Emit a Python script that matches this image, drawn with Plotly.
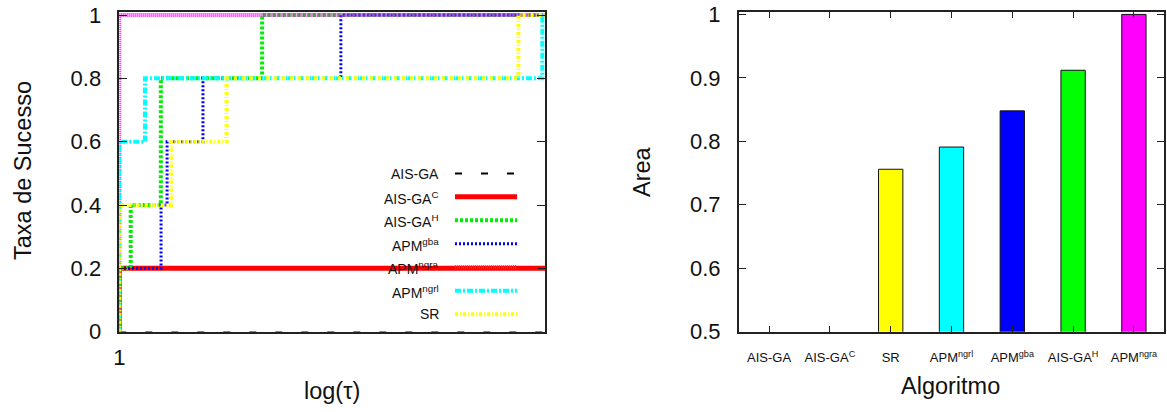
import plotly.graph_objects as go

W, H = 1167, 412

# ---------------- data: performance profile (left) ----------------
series_names = ["AIS-GA", "AIS-GA<sup>C</sup>", "AIS-GA<sup>H</sup>", "APM<sup>gba</sup>",
                "APM<sup>ngra</sup>", "APM<sup>ngrl</sup>", "SR"]
tau_aisga = [1, 5]
rho_aisga = [0, 0]
tau_aisgac = [1, 1, 5]
rho_aisgac = [0, 0.2, 0.2]
tau_aisgah = [1, 1, 1.044, 1.170, 1.716, 5]
rho_aisgah = [0, 0.2, 0.4, 0.8, 1.0, 1.0]
tau_gba = [1, 1, 1.171, 1.198, 1.372, 2.311, 5]
rho_gba = [0, 0.2, 0.4, 0.6, 0.8, 1.0, 1.0]
tau_ngra = [1, 1, 5]
rho_ngra = [0, 1.0, 1.0]
tau_ngrl = [1, 1, 1.102, 4.95, 5]
rho_ngrl = [0, 0.6, 0.8, 1.0, 1.0]
tau_sr = [1, 1, 1.216, 1.500, 4.522, 5]
rho_sr = [0, 0.4, 0.6, 0.8, 1.0, 1.0]

# ---------------- data: area (right) ----------------
bar_labels = ["AIS-GA", "AIS-GA<sup>C</sup>", "SR", "APM<sup>ngrl</sup>", "APM<sup>gba</sup>",
              "AIS-GA<sup>H</sup>", "APM<sup>ngra</sup>"]
bar_values = [0.0, 0.2, 0.756, 0.791, 0.848, 0.912, 1.0]
bar_colors = ["#000000", "#ff0000", "#ffff00", "#00ffff", "#0000ff", "#00ff00", "#ff00ff"]

y_ticks_left = [0, 0.2, 0.4, 0.6, 0.8, 1]
y_ticks_right = [0.5, 0.6, 0.7, 0.8, 0.9, 1]

styles = [
    dict(color="#000000", width=2, dash="7px,19px"),
    dict(color="#ff0000", width=5, dash="solid"),
    dict(color="#00ee00", width=4, dash="3px,2px"),
    dict(color="#0000ff", width=3, dash="2px,2px"),
    dict(color="#ff00ff", width=4, dash="1px,1px"),
    dict(color="#00ffff", width=4, dash="6px,2px,2px,2px"),
    dict(color="#ffff00", width=4, dash="3px,2px,1px,2px"),
]
taus = [tau_aisga, tau_aisgac, tau_aisgah, tau_gba, tau_ngra, tau_ngrl, tau_sr]
rhos = [rho_aisga, rho_aisgac, rho_aisgah, rho_gba, rho_ngra, rho_ngrl, rho_sr]

fig = go.Figure()
for i, (name, t, r, st) in enumerate(zip(series_names, taus, rhos, styles)):
    st_tr = dict(st)
    if i == 0:
        st_tr["width"] = 0.8  # lies on the x axis, hidden under the border as in the reference
    fig.add_trace(go.Scatter(x=t, y=r, mode="lines", name=name, line=dict(shape="hv", **st_tr),
                             xaxis="x", yaxis="y", showlegend=False))

fig.add_trace(go.Bar(x=bar_labels, y=bar_values, marker=dict(color=bar_colors, line=dict(color="#111", width=1)),
                     width=0.4, xaxis="x2", yaxis="y2", showlegend=False))

FONT = "Liberation Sans, Arial, sans-serif"
axis_common = dict(showline=True, linecolor="#222", linewidth=1.5, mirror="allticks", ticks="inside",
                   tickcolor="#222", showgrid=False, zeroline=False, automargin=False, layer="above traces")

left_dom = [119.3 / W, 545 / W]
right_dom = [738.7 / W, 1164.3 / W]
y_dom = [1 - 331.7 / H, 1 - 12 / H]

fig.update_layout(
    width=W, height=H, margin=dict(l=0, r=0, t=0, b=0, pad=0, autoexpand=False),
    paper_bgcolor="white", plot_bgcolor="white",
    font=dict(family=FONT, color="#111"),
    xaxis=dict(domain=left_dom, type="log", range=[0, 0.69897], tickvals=[1], ticktext=["1"],
               ticklen=6, tickfont=dict(size=22), ticklabelstandoff=5, anchor="y", **axis_common),
    yaxis=dict(domain=y_dom, range=[0, 1.0095], tickvals=y_ticks_left,
               ticktext=[f"{v:g}" for v in y_ticks_left], ticklen=8, tickfont=dict(size=22),
               ticklabelstandoff=12, anchor="x", **axis_common),
    xaxis2=dict(domain=right_dom, type="category", range=[-0.5, 6.5], ticklen=6,
                tickfont=dict(size=13), ticklabelstandoff=13, anchor="y2", **axis_common),
    yaxis2=dict(domain=y_dom, range=[0.5, 1.0038], tickvals=y_ticks_right,
                ticktext=[f"{v:g}" for v in y_ticks_right], ticklen=8, tickfont=dict(size=22),
                ticklabelstandoff=12, anchor="x2", **axis_common),
)

annotations = [
    dict(text="Taxa de Sucesso", x=23 / W, y=1 - 171 / H, textangle=-90, font=dict(size=23.5)),
    dict(text="log(τ)", x=331.7 / W, y=1 - 391 / H, font=dict(size=23.5)),
    dict(text="Area", x=642 / W, y=1 - 172 / H, textangle=-90, font=dict(size=23.5)),
    dict(text="Algoritmo", x=950 / W, y=1 - 386 / H, font=dict(size=23.5)),
]
for a in annotations:
    a.update(xref="paper", yref="paper", showarrow=False, xanchor="center", yanchor="middle")

# manual gnuplot-style legend (text right, sample on the right)
row_y = [173.5, 196.7, 220.3, 243.7, 267.3, 290.7, 314.3]
shapes = []
for name, st, yy in zip(series_names, styles, row_y):
    has_sup = "<sup>" in name
    annotations.append(dict(text=name, xref="paper", yref="paper", x=441 / W, y=1 - yy / H,
                            xanchor="right", yanchor="middle", showarrow=False,
                            font=dict(size=14), yshift=(-1 if has_sup else 0)))
    shapes.append(dict(type="line", xref="paper", yref="paper", x0=455 / W, x1=517 / W,
                       y0=1 - yy / H, y1=1 - yy / H, line=st))

fig.update_layout(annotations=annotations, shapes=shapes)
fig.write_html("out.html", config={"displayModeBar": False},
               post_script="document.body.style.margin='0px';document.body.style.overflow='hidden';")
